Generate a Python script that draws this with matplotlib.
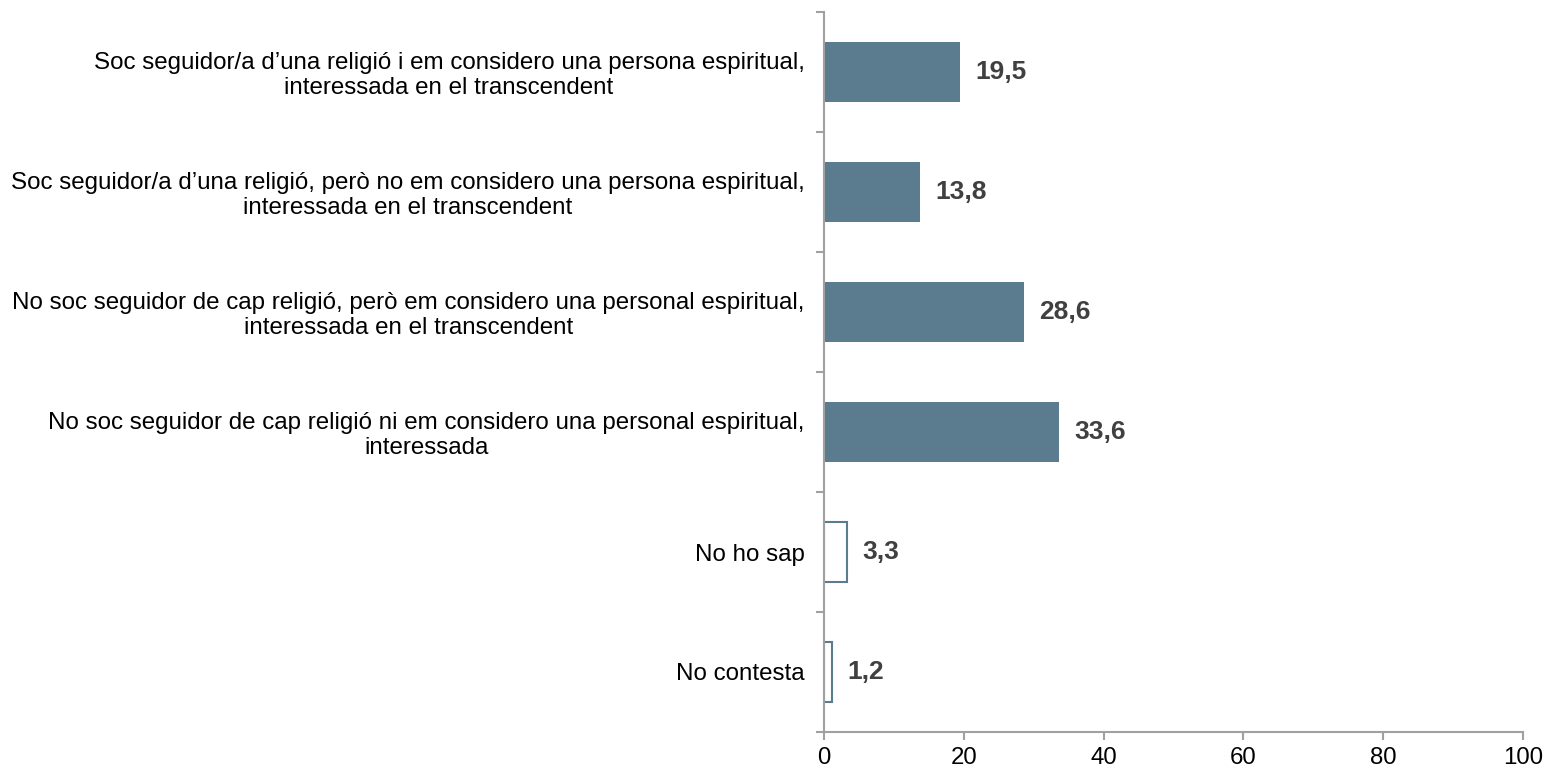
import matplotlib.pyplot as plt
import numpy as np

plt.rcParams['font.family'] = ['Liberation Sans', 'DejaVu Sans']

# Dades
categories = [
    "Soc seguidor/a d\u2019una religió i em considero una persona espiritual,\ninteressada en el transcendent",
    "Soc seguidor/a d\u2019una religió, però no em considero una persona espiritual,\ninteressada en el transcendent",
    "No soc seguidor de cap religió, però em considero una personal espiritual,\ninteressada en el transcendent",
    "No soc seguidor de cap religió ni em considero una personal espiritual,\ninteressada",
    "No ho sap",
    "No contesta",
]
values = [19.5, 13.8, 28.6, 33.6, 3.3, 1.2]
filled = [True, True, True, True, False, False]

bar_color = '#5B7C8F'
grey = '#A0A0A0'

fig = plt.figure(figsize=(15.49, 7.72), dpi=100)
ax = fig.add_axes([824 / 1549, 40 / 772, (1523 - 824) / 1549, 720 / 772])

y = np.arange(len(categories))
for yi, v, f in zip(y, values, filled):
    if f:
        ax.barh(yi, v, height=0.5, color=bar_color, edgecolor='none')
    else:
        ax.barh(yi, v, height=0.5, facecolor='white', edgecolor=bar_color, linewidth=1.5)
    ax.annotate(f"{v:.1f}".replace('.', ','), xy=(v, yi), xytext=(11, 0),
                textcoords='offset points', va='center', ha='left',
                fontsize=19, fontweight='bold', color='#404040')

ax.set_xlim(0, 100)
ax.set_ylim(len(categories) - 0.5, -0.5)
ax.set_xticks([0, 20, 40, 60, 80, 100])
ax.set_yticks(y)
ax.set_yticklabels(categories, fontsize=17.4, linespacing=1.12)
for lab in ax.get_yticklabels():
    lab.set_multialignment('center')
ax.set_yticks(np.arange(-0.5, len(categories)), minor=True)

ax.tick_params(axis='y', which='major', length=0, pad=14)
ax.tick_params(axis='y', which='minor', length=6, color=grey, width=1.5, direction='out')
ax.tick_params(axis='x', length=6, color=grey, width=1.5, labelsize=17.3, pad=5)

for s in ['top', 'right']:
    ax.spines[s].set_visible(False)
for s in ['left', 'bottom']:
    ax.spines[s].set_color(grey)
    ax.spines[s].set_linewidth(1.5)

fig.savefig('out.png', dpi=100)
